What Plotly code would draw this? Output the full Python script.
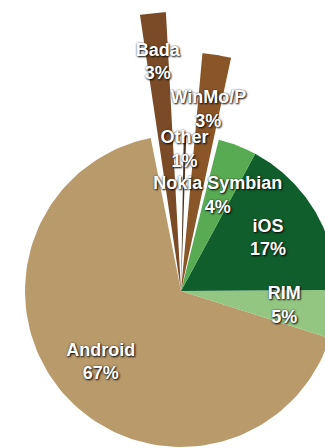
import numpy as np
import plotly.graph_objects as go

# ---- data ----
labels = ["Bada", "Other", "WinMo/P", "Nokia Symbian", "iOS", "RIM", "Android"]
shares = [3, 1, 3, 4, 17, 5, 67]  # percent

# ---- style ----
start_angle = -11.2                     # degrees, clockwise from 12 o'clock
colors = ["#7A4B26", "#4B301A", "#8A5628", "#58AB52", "#0F5E2B", "#93C681", "#B99A6B"]
radius = [1.79, 1.0, 1.53, 1, 1, 1, 1]  # exploded spikes are longer
width_factor = [0.5, 0.3, 0.65, 1, 1, 1, 1]
label_r = [1.47, 0.9, 1.17, 0.65, 0.65, 0.67, 0.69]

W, H = 325, 448
cx, cy, R = 181, 291, 156               # pie centre and radius in px

total = float(sum(shares))
span = np.array(shares) / total * 360.0
cum = np.concatenate([[0], np.cumsum(span)[:-1]])
theta_mid = start_angle + cum + span / 2

fig = go.Figure()
order = [6, 5, 4, 3, 2, 1, 0]
for i in order:
    half = span[i] * width_factor[i] / 2
    th = np.radians(np.linspace(theta_mid[i] - half, theta_mid[i] + half, 120))
    xs = np.concatenate([[0], radius[i] * np.sin(th), [0]])
    ys = np.concatenate([[0], radius[i] * np.cos(th), [0]])
    fig.add_trace(go.Scatter(
        x=xs, y=ys, mode="lines", fill="toself",
        fillcolor=colors[i], line=dict(width=0, color=colors[i]),
        name=labels[i], hoverinfo="name", showlegend=False,
    ))

tm = np.radians(theta_mid)
fig.add_trace(go.Scatter(
    x=np.array(label_r) * np.sin(tm),
    y=np.array(label_r) * np.cos(tm),
    mode="text",
    text=[f"{l}<br>{s}%" for l, s in zip(labels, shares)],
    textfont=dict(family="Liberation Sans", size=18, color="white", weight="bold",
                  shadow="1px 1px 2px rgba(0,0,0,0.95), 0px 0px 2px rgba(60,60,60,0.8)"),
    cliponaxis=False, hoverinfo="skip", showlegend=False,
))

fig.update_layout(
    width=W, height=H, autosize=False,
    margin=dict(l=0, r=0, t=0, b=0, pad=0),
    paper_bgcolor="white", plot_bgcolor="white",
    xaxis=dict(range=[(0 - cx) / R, (W - cx) / R], visible=False, fixedrange=True),
    yaxis=dict(range=[(cy - H) / R, cy / R], visible=False, fixedrange=True),
)

fig.write_html("out.html")
